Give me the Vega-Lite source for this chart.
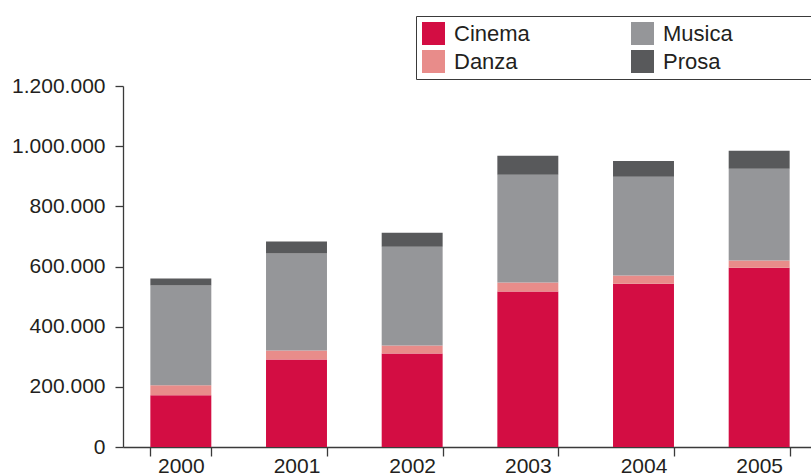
{
  "$schema": "https://vega.github.io/schema/vega-lite/v6.json",
  "width": 688,
  "height": 361,
  "autosize": "none",
  "padding": {"left": 123, "top": 86, "right": 0, "bottom": 29},
  "background": "white",
  "config": {
    "view": {"stroke": null},
    "font": "Liberation Sans",
    "axis": {
      "domainColor": "#3a3a3a",
      "domainWidth": 1.3,
      "tickColor": "#3a3a3a",
      "tickWidth": 1.3,
      "labelColor": "#231f20",
      "labelFontSize": 21,
      "labelFont": "Liberation Sans",
      "grid": false,
      "title": null
    }
  },
  "data": {
    "values": [
      {"anno": "2000", "settore": "Cinema", "spettatori": 172000},
      {"anno": "2000", "settore": "Danza", "spettatori": 33000},
      {"anno": "2000", "settore": "Musica", "spettatori": 332000},
      {"anno": "2000", "settore": "Prosa", "spettatori": 23000},
      {"anno": "2001", "settore": "Cinema", "spettatori": 291000},
      {"anno": "2001", "settore": "Danza", "spettatori": 30000},
      {"anno": "2001", "settore": "Musica", "spettatori": 322000},
      {"anno": "2001", "settore": "Prosa", "spettatori": 40000},
      {"anno": "2002", "settore": "Cinema", "spettatori": 311000},
      {"anno": "2002", "settore": "Danza", "spettatori": 26500},
      {"anno": "2002", "settore": "Musica", "spettatori": 328500},
      {"anno": "2002", "settore": "Prosa", "spettatori": 46500},
      {"anno": "2003", "settore": "Cinema", "spettatori": 517000},
      {"anno": "2003", "settore": "Danza", "spettatori": 30000},
      {"anno": "2003", "settore": "Musica", "spettatori": 358000},
      {"anno": "2003", "settore": "Prosa", "spettatori": 63000},
      {"anno": "2004", "settore": "Cinema", "spettatori": 543000},
      {"anno": "2004", "settore": "Danza", "spettatori": 27000},
      {"anno": "2004", "settore": "Musica", "spettatori": 328000},
      {"anno": "2004", "settore": "Prosa", "spettatori": 53000},
      {"anno": "2005", "settore": "Cinema", "spettatori": 596000},
      {"anno": "2005", "settore": "Danza", "spettatori": 24000},
      {"anno": "2005", "settore": "Musica", "spettatori": 305000},
      {"anno": "2005", "settore": "Prosa", "spettatori": 60000}
    ]
  },
  "transform": [
    {"calculate": "indexof(['Cinema','Danza','Musica','Prosa'], datum.settore)", "as": "ordine"}
  ],
  "mark": {"type": "bar"},
  "encoding": {
    "x": {
      "field": "anno",
      "type": "nominal",
      "scale": {"range": [0, 694], "paddingInner": 0.473, "paddingOuter": 0.2365},
      "axis": {"labelAngle": 0, "tickBand": "extent", "tickSize": 9, "labelPadding": -1, "labelBaseline": "top", "domain": true}
    },
    "y": {
      "field": "spettatori",
      "type": "quantitative",
      "stack": "zero",
      "scale": {"domain": [0, 1200000], "nice": false},
      "axis": {
        "values": [0, 200000, 400000, 600000, 800000, 1000000, 1200000],
        "labelExpr": "replace(format(datum.value, ','), /,/g, '.')",
        "tickSize": 8,
        "labelPadding": 10
      }
    },
    "order": {"field": "ordine", "type": "quantitative"},
    "color": {
      "field": "settore",
      "type": "nominal",
      "scale": {
        "domain": ["Cinema", "Danza", "Musica", "Prosa"],
        "range": ["#d30d43", "#e88c8a", "#959699", "#58595b"]
      },
      "legend": {
        "orient": "none",
        "legendX": 293,
        "legendY": -70,
        "columns": 2,
        "title": " ",
        "titleOrient": "right",
        "titlePadding": 85,
        "titleFontSize": 2,
        "symbolType": "square",
        "symbolSize": 529,
        "symbolStrokeWidth": 0,
        "symbolOpacity": 1,
        "labelFontSize": 22,
        "labelFont": "Liberation Sans",
        "labelColor": "#231f20",
        "labelOffset": 9,
        "columnPadding": 101,
        "rowPadding": 5,
        "padding": 6,
        "strokeColor": "#3a3a3a",
        "fillColor": "white"
      }
    }
  }
}
